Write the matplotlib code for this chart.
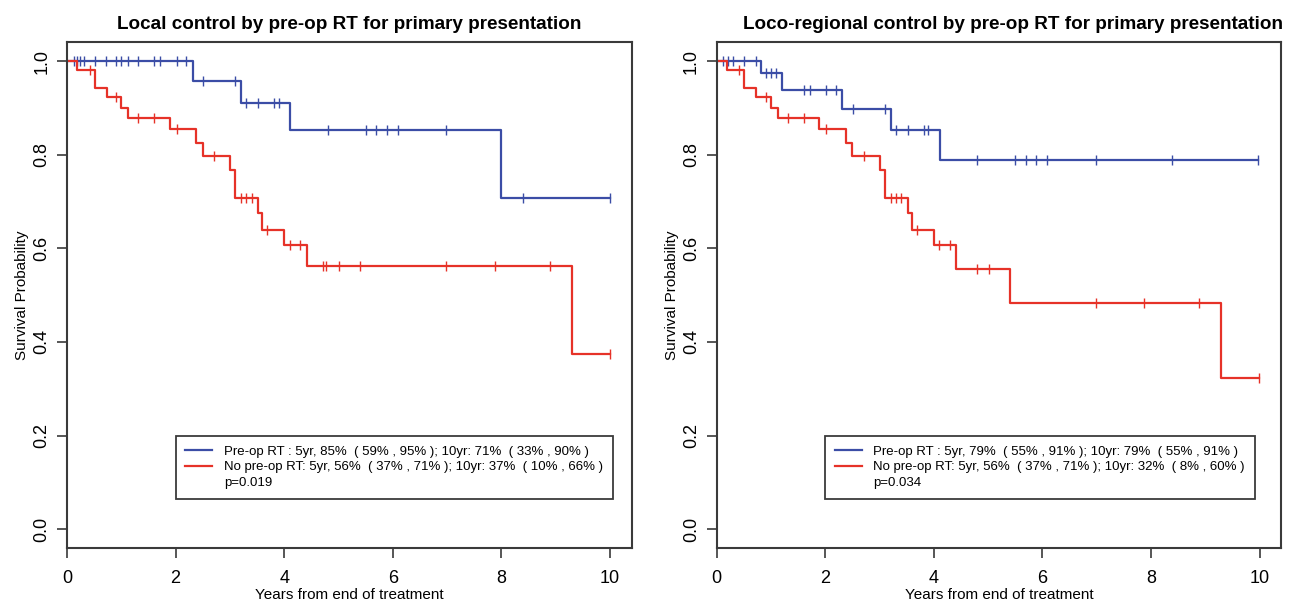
import numpy as np
import matplotlib.pyplot as plt

plt.rcParams['font.family'] = ['Liberation Sans', 'DejaVu Sans']

## Data ####################################################
# left panel: local control
lc_pre_events = [2.32, 3.21, 4.11, 8.0]
lc_pre_surv = [0.957, 0.910, 0.852, 0.708]
lc_pre_cens = [0.12, 0.18, 0.23, 0.31, 0.51, 0.72, 0.91, 1.00, 1.12, 1.31, 1.60, 1.71, 2.02, 2.20,
               2.51, 3.10, 3.30, 3.52, 3.82, 3.90, 4.80, 5.50, 5.69, 5.89, 6.09, 6.99, 8.40, 10.0]
lc_no_events = [0.19, 0.51, 0.73, 1.00, 1.13, 1.89, 2.38, 2.50, 3.01, 3.10, 3.52, 3.60, 4.00, 4.42, 9.30]
lc_no_surv = [0.982, 0.943, 0.923, 0.900, 0.878, 0.855, 0.825, 0.797, 0.767, 0.708, 0.676, 0.640,
              0.607, 0.562, 0.374]
lc_no_cens = [0.42, 0.91, 1.31, 1.60, 2.02, 2.71, 3.21, 3.30, 3.40, 3.69, 4.10, 4.29, 4.71, 4.77,
              5.01, 5.40, 6.99, 7.89, 8.89, 10.0]

# right panel: loco-regional control
lr_pre_events = [0.81, 1.20, 2.31, 3.21, 4.11]
lr_pre_surv = [0.975, 0.939, 0.897, 0.852, 0.789]
lr_pre_cens = [0.12, 0.21, 0.30, 0.51, 0.72, 0.90, 1.00, 1.10, 1.60, 1.71, 2.02, 2.20, 2.51, 3.10,
               3.30, 3.52, 3.82, 3.90, 4.80, 5.50, 5.69, 5.89, 6.09, 6.98, 8.39, 9.98]
lr_no_events = [0.19, 0.51, 0.73, 1.00, 1.13, 1.89, 2.38, 2.50, 3.01, 3.10, 3.52, 3.60, 4.00, 4.41,
                5.40, 9.29]
lr_no_surv = [0.982, 0.943, 0.923, 0.900, 0.878, 0.855, 0.825, 0.797, 0.767, 0.708, 0.676, 0.640,
              0.607, 0.555, 0.484, 0.322]
lr_no_cens = [0.42, 0.91, 1.31, 1.60, 2.02, 2.71, 3.21, 3.30, 3.40, 3.69, 4.10, 4.29, 4.79, 5.01,
              6.99, 7.88, 8.88, 9.99]

titles = ['Local control by pre-op RT for primary presentation',
          'Loco-regional control by pre-op RT for primary presentation']
legend_pre = ['Pre-op RT : 5yr, 85%  ( 59% , 95% ); 10yr: 71%  ( 33% , 90% )',
              'Pre-op RT : 5yr, 79%  ( 55% , 91% ); 10yr: 79%  ( 55% , 91% )']
legend_no = ['No pre-op RT: 5yr, 56%  ( 37% , 71% ); 10yr: 37%  ( 10% , 66% )',
             'No pre-op RT: 5yr, 56%  ( 37% , 71% ); 10yr: 32%  ( 8% , 60% )']
pvals = ['p=0.019', 'p=0.034']
title_x = [0.5, 0.525]   # right title sits a little off-centre in the original

BLUE = '#3B4DA6'
RED = '#E63228'
FRAME = '#3a3a3a'


def km_curve(ax, events, surv, cens, color, label):
    t_end = max(cens[-1], events[-1])
    x = np.concatenate(([0], events, [t_end]))
    y = np.concatenate(([1.0], surv, [surv[-1]]))
    ax.step(x, y, where='post', color=color, lw=1.6, label=label)
    # survival value at each censoring time
    idx = np.searchsorted(x, cens, side='right') - 1
    ax.plot(cens, y[idx], ls='none', marker='|', ms=7.5, mew=1.0, color=color)


fig = plt.figure(figsize=(12.89, 6.06), dpi=100)
ax1 = fig.add_axes([0.052, 0.096, 0.438, 0.834])
ax2 = fig.add_axes([0.556, 0.096, 0.438, 0.834])

panels = [(ax1, lc_pre_events, lc_pre_surv, lc_pre_cens, lc_no_events, lc_no_surv, lc_no_cens),
          (ax2, lr_pre_events, lr_pre_surv, lr_pre_cens, lr_no_events, lr_no_surv, lr_no_cens)]

for i, (ax, pe, ps, pc, ne, ns, nc) in enumerate(panels):
    km_curve(ax, pe, ps, pc, BLUE, legend_pre[i])
    km_curve(ax, ne, ns, nc, RED, legend_no[i])
    ax.plot([], [], color='none', label=pvals[i])

    ax.set_xlim(0, 10.4)
    ax.set_ylim(-0.04, 1.04)
    ax.set_xticks(np.arange(0, 11, 2))
    ax.set_yticks(np.arange(0, 1.01, 0.2))
    ax.set_yticklabels([f'{v:.1f}' for v in np.arange(0, 1.01, 0.2)], rotation=90, va='center')
    ax.tick_params(direction='out', length=7, width=1.2, color=FRAME, labelsize=13)
    ax.tick_params(axis='x', pad=9)
    ax.tick_params(axis='y', pad=5)
    for s in ax.spines.values():
        s.set_color(FRAME)
        s.set_linewidth(1.5)

    ax.set_title(titles[i], fontsize=13.6, fontweight='bold', pad=10, x=title_x[i])
    ax.set_xlabel('Years from end of treatment', fontsize=11, labelpad=1)
    ax.set_ylabel('Survival Probability', fontsize=11, labelpad=3)

    leg = ax.legend(loc='upper left', bbox_to_anchor=(2, 0.2), bbox_transform=ax.transData,
                    fontsize=9.5, frameon=True, fancybox=False, framealpha=1, edgecolor=FRAME,
                    borderaxespad=0, borderpad=0.75, handlelength=2.0, handletextpad=0.9,
                    labelspacing=0.25)
    leg.get_frame().set_linewidth(1.3)

fig.savefig('out.png', dpi=100)
